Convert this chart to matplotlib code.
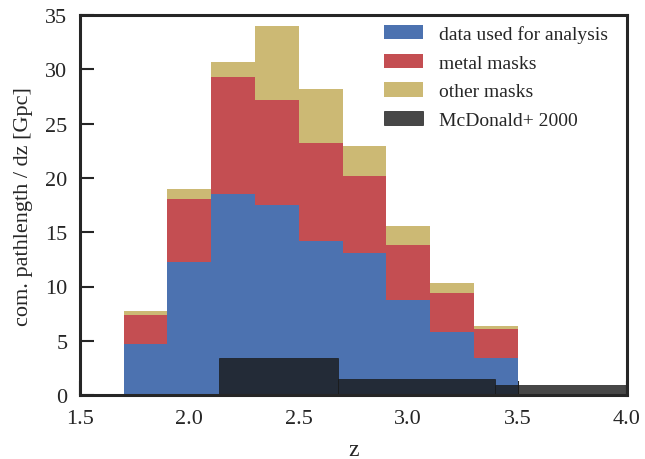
import matplotlib
matplotlib.use("Agg")
import matplotlib.pyplot as plt
import numpy as np

# Redshift bins and pathlength per dz for each component (stacked)
bin_edges = [1.7, 1.9, 2.1, 2.3, 2.5, 2.7, 2.9, 3.1, 3.3, 3.5]
data_used = [4.68, 12.24, 18.48, 17.53, 14.20, 13.10, 8.74, 5.81, 3.41]
metal_masks = [2.70, 5.84, 10.86, 9.68, 9.05, 7.10, 5.10, 3.60, 2.68]
other_masks = [0.37, 0.92, 1.38, 6.83, 4.98, 2.77, 1.75, 0.92, 0.28]

# McDonald et al. 2000 comparison sample
mcd_edges = [2.135, 2.68, 3.397, 4.1]
mcd_values = [3.41, 1.48, 0.90]

labels = ["data used for analysis", "metal masks", "other masks", "McDonald+ 2000"]
colors = ["#4c72b0", "#c44e52", "#ccb974", "#191919"]

plt.rcParams["font.family"] = ["Liberation Serif", "DejaVu Serif"]
plt.rcParams["mathtext.fontset"] = "stix"

fig = plt.figure(figsize=(6.45, 4.6), dpi=100)
ax = fig.add_axes([0.124, 0.139, 0.848, 0.826])
ax.set_axisbelow(True)

edges = np.array(bin_edges)
left = edges[:-1]
width = np.diff(edges)
d = np.array(data_used)
m = np.array(metal_masks)
o = np.array(other_masks)

ax.bar(left, d, width=width, align="edge", color=colors[0], lw=0, label=labels[0])
ax.bar(left, m, width=width, bottom=d, align="edge", color=colors[1], lw=0, label=labels[1])
ax.bar(left, o, width=width, bottom=d + m, align="edge", color=colors[2], lw=0, label=labels[2])

me = np.array(mcd_edges)
ax.bar(me[:-1], mcd_values, width=np.diff(me), align="edge", color=colors[3],
       alpha=0.8, edgecolor=colors[3], lw=0.6, label=labels[3])

ax.set_xlim(1.5, 4.0)
ax.set_ylim(0, 35)
ax.set_xticks([1.5, 2.0, 2.5, 3.0, 3.5, 4.0])
ax.set_xticklabels(["1.5", "2.0", "2.5", "3.0", "3.5", "4.0"])
ax.set_yticks([0, 5, 10, 15, 20, 25, 30, 35])

for s in ax.spines.values():
    s.set_linewidth(2.2)
    s.set_color("#262626")
    s.set_zorder(3)

ax.tick_params(axis="both", which="both", direction="in", length=10, width=1.5,
               color="#262626", labelsize=16, labelcolor="#262626",
               top=False, right=False)
ax.tick_params(axis="y", pad=9)
ax.tick_params(axis="x", pad=10)

ax.set_xlabel("z", fontsize=17, color="#262626", labelpad=8)
ax.set_ylabel("com. pathlength / dz [Gpc]", fontsize=16, color="#262626", labelpad=9)

leg = ax.legend(loc="upper right", bbox_to_anchor=(1.0, 1.022), frameon=False,
                fontsize=14, handlelength=2.0, handleheight=0.75,
                handletextpad=0.85, labelspacing=0.55, borderaxespad=0.55)
for t in leg.get_texts():
    t.set_color("#262626")

fig.savefig("out.png", dpi=100)
